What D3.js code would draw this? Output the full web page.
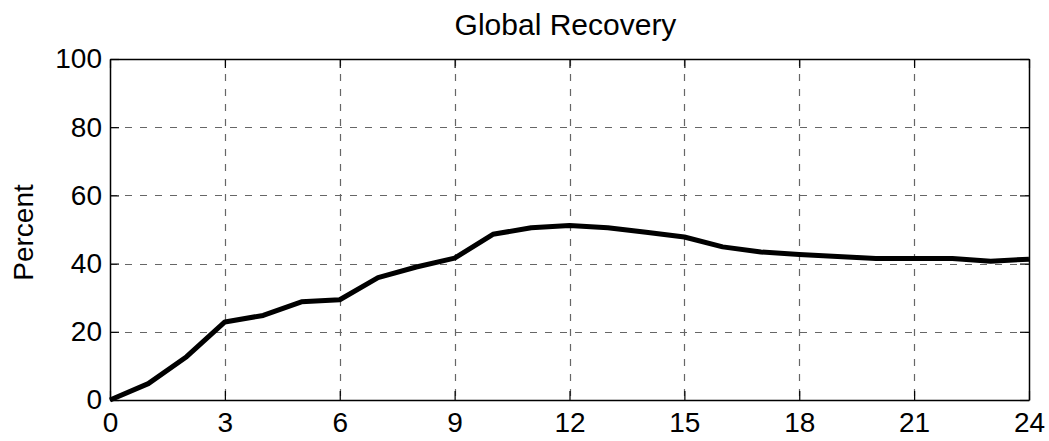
<!DOCTYPE html>
<html>
<head>
<meta charset="utf-8">
<script src="https://cdn.jsdelivr.net/npm/d3@7"></script>
<style>
  html, body { margin: 0; padding: 0; background: #fff; }
  svg { display: block; font-family: "Liberation Sans", Arial, sans-serif; }
</style>
</head>
<body>
<svg id="chart" width="1049" height="441"></svg>
<script>
// Months since onset and share of global output recovered (percent)
const months = [0, 1, 2, 3, 4, 5, 6, 7, 8, 9, 10, 11, 12, 13, 14, 15, 16, 17, 18, 19, 20, 21, 22, 23, 24];
const recovery = [0, 4.8, 12.7, 22.9, 24.8, 28.8, 29.4, 35.9, 39.0, 41.6, 48.6, 50.5, 51.2, 50.5, 49.2, 47.8, 44.9, 43.4, 42.7, 42.1, 41.5, 41.5, 41.5, 40.7, 41.3];
const xTicks = [0, 3, 6, 9, 12, 15, 18, 21, 24];
const yTicks = [0, 20, 40, 60, 80, 100];
const titleText = "Global Recovery";
const yLabelText = "Percent";

const svg = d3.select("#chart");
const margin = { left: 110, right: 20, top: 59, bottom: 41 };
const W = 1049, H = 441;
const x = d3.scaleLinear().domain([0, 24]).range([margin.left, W - margin.right]);
const y = d3.scaleLinear().domain([0, 100]).range([H - margin.bottom, margin.top]);

// dashed grid
const grid = svg.append("g").attr("stroke", "#666").attr("stroke-width", 1.2)
  .attr("stroke-dasharray", "7,8");
grid.selectAll("line.v").data(xTicks.slice(1, -1)).join("line")
  .attr("x1", d => Math.round(x(d)) + 0.5).attr("x2", d => Math.round(x(d)) + 0.5)
  .attr("y1", y(100)).attr("y2", y(0));
grid.selectAll("line.h").data(yTicks.slice(1, -1)).join("line")
  .attr("y1", d => Math.round(y(d)) + 0.5).attr("y2", d => Math.round(y(d)) + 0.5)
  .attr("x1", x(0)).attr("x2", x(24));

// axes with inward ticks, mirrored on the opposite sides
const tickLen = 9;
const fontSize = 28;
const axBottom = svg.append("g").attr("transform", `translate(0,${y(0)})`)
  .call(d3.axisBottom(x).tickValues(xTicks).tickSizeInner(-tickLen).tickSizeOuter(0).tickPadding(12));
const axLeft = svg.append("g").attr("transform", `translate(${x(0)},0)`)
  .call(d3.axisLeft(y).tickValues(yTicks).tickSizeInner(-tickLen).tickSizeOuter(0).tickPadding(8));
const axTop = svg.append("g").attr("transform", `translate(0,${y(100)})`)
  .call(d3.axisTop(x).tickValues(xTicks).tickSizeInner(-tickLen).tickSizeOuter(0).tickFormat(""));
const axRight = svg.append("g").attr("transform", `translate(${x(24)},0)`)
  .call(d3.axisRight(y).tickValues(yTicks).tickSizeInner(-tickLen).tickSizeOuter(0).tickFormat(""));

[axBottom, axLeft, axTop, axRight].forEach(g => {
  g.select(".domain").attr("stroke", "#000").attr("stroke-width", 1.5);
  g.selectAll(".tick line").attr("stroke", "#000").attr("stroke-width", 1.2);
  g.selectAll(".tick text").attr("fill", "#000").style("font-size", fontSize + "px")
    .style("font-family", '"Liberation Sans", Arial, sans-serif');
});

// data line
const line = d3.line().x((d, i) => x(months[i])).y(d => y(d));
svg.append("path").datum(recovery)
  .attr("fill", "none").attr("stroke", "#000").attr("stroke-width", 5)
  .attr("stroke-linejoin", "round").attr("stroke-linecap", "butt")
  .attr("d", line);

// title and axis label
svg.append("text").attr("x", (x(0) + x(24)) / 2 - 4).attr("y", 35)
  .attr("text-anchor", "middle").style("font-size", "30px").attr("fill", "#000")
  .text(titleText);
svg.append("text")
  .attr("transform", `translate(33,${(y(0) + y(100)) / 2 + 3}) rotate(-90)`)
  .attr("text-anchor", "middle").style("font-size", "28px").attr("fill", "#000")
  .text(yLabelText);
</script>
</body>
</html>
